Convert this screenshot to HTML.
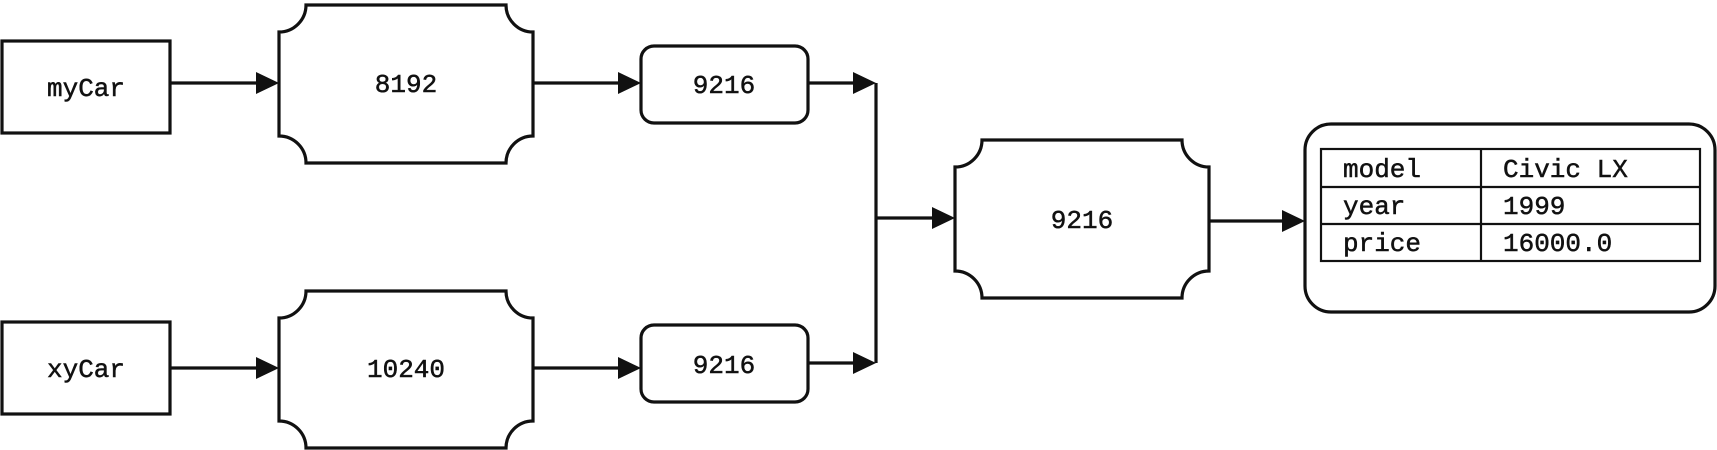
<!DOCTYPE html>
<html><head><meta charset="utf-8"><style>
html,body{margin:0;padding:0;background:#fff;}
svg{display:block;}
text{font-family:"Liberation Mono","DejaVu Sans Mono",monospace;font-size:26px;fill:#111;stroke:#111;stroke-width:0.5;}
</style></head><body>
<svg width="1717" height="450" viewBox="0 0 1717 450" xmlns="http://www.w3.org/2000/svg">
<g fill="none" stroke="#111" stroke-width="3.2">
<rect x="2" y="41" width="168" height="92"/>
<rect x="2" y="322" width="168" height="92"/>
<path d="M306,5 L506,5 A27,27 0 0 0 533,32 L533,136 A27,27 0 0 0 506,163 L306,163 A27,27 0 0 0 279,136 L279,32 A27,27 0 0 0 306,5 Z"/>
<path d="M306,291 L506,291 A27,27 0 0 0 533,318 L533,421 A27,27 0 0 0 506,448 L306,448 A27,27 0 0 0 279,421 L279,318 A27,27 0 0 0 306,291 Z"/>
<rect x="641" y="46" width="167" height="77" rx="13"/>
<rect x="641" y="325" width="167" height="77" rx="13"/>
<path d="M982,140 L1182,140 A27,27 0 0 0 1209,167 L1209,271 A27,27 0 0 0 1182,298 L982,298 A27,27 0 0 0 955,271 L955,167 A27,27 0 0 0 982,140 Z"/>
<rect x="1305" y="124" width="410" height="188" rx="26"/>
<line x1="170" y1="83" x2="258" y2="83"/>
<line x1="170" y1="368" x2="258" y2="368"/>
<line x1="533" y1="83" x2="620" y2="83"/>
<line x1="533" y1="368" x2="620" y2="368"/>
<line x1="808" y1="83" x2="856" y2="83"/>
<line x1="808" y1="363" x2="856" y2="363"/>
<line x1="876" y1="83" x2="876" y2="363"/>
<line x1="876" y1="218" x2="934" y2="218"/>
<line x1="1209" y1="221" x2="1284" y2="221"/>
</g>
<g fill="#111">
<polygon points="256,72 279,83 256,94"/>
<polygon points="256,357 279,368 256,379"/>
<polygon points="618,72 641,83 618,94"/>
<polygon points="618,357 641,368 618,379"/>
<polygon points="853,72 876,83 853,94"/>
<polygon points="853,352 876,363 853,374"/>
<polygon points="932,207 955,218 932,229"/>
<polygon points="1282,210 1305,221 1282,232"/>
</g>
<g fill="none" stroke="#111" stroke-width="2.2">
<rect x="1321" y="149" width="379" height="112"/>
<line x1="1481" y1="149" x2="1481" y2="261"/>
<line x1="1321" y1="187" x2="1700" y2="187"/>
<line x1="1321" y1="224" x2="1700" y2="224"/>
</g>
<g text-anchor="middle">
<text x="86" y="96">myCar</text>
<text x="86" y="377">xyCar</text>
<text x="406" y="92">8192</text>
<text x="406" y="377">10240</text>
<text x="724" y="93">9216</text>
<text x="724" y="373">9216</text>
<text x="1082" y="228">9216</text>
</g>
<text x="1343" y="177">model</text>
<text x="1503" y="177">Civic LX</text>
<text x="1343" y="214">year</text>
<text x="1503" y="214">1999</text>
<text x="1343" y="251">price</text>
<text x="1503" y="251">16000.0</text>
</svg>
</body></html>
